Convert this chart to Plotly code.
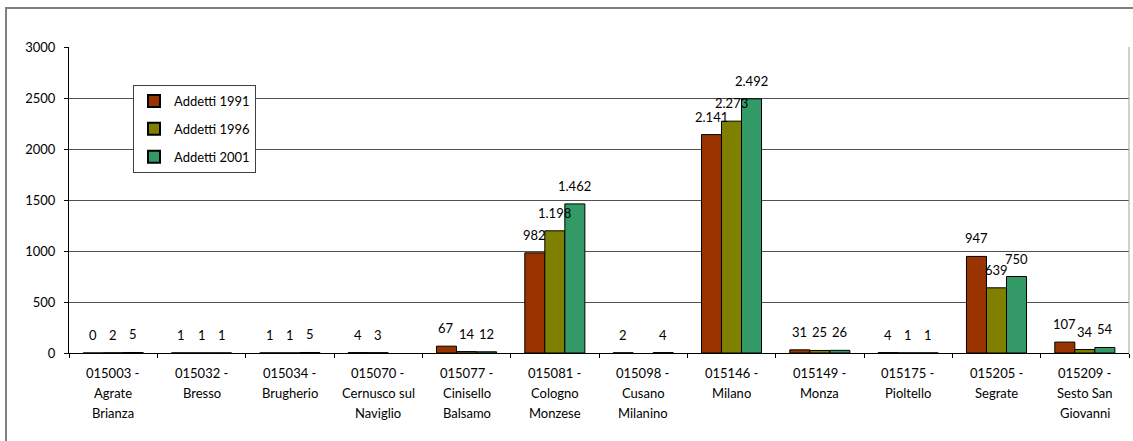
import plotly.graph_objects as go

# Comuni (codice ISTAT - nome) and their label lines under the axis
comuni = [
    "015003 - Agrate Brianza", "015032 - Bresso", "015034 - Brugherio",
    "015070 - Cernusco sul Naviglio", "015077 - Cinisello Balsamo",
    "015081 - Cologno Monzese", "015098 - Cusano Milanino", "015146 - Milano",
    "015149 - Monza", "015175 - Pioltello", "015205 - Segrate",
    "015209 - Sesto San Giovanni",
]
etichette = [
    ["015003 -", "Agrate", "Brianza"],
    ["015032 -", "Bresso"],
    ["015034 -", "Brugherio"],
    ["015070 -", "Cernusco sul", "Naviglio"],
    ["015077 -", "Cinisello", "Balsamo"],
    ["015081 -", "Cologno", "Monzese"],
    ["015098 -", "Cusano", "Milanino"],
    ["015146 -", "Milano"],
    ["015149 -", "Monza"],
    ["015175 -", "Pioltello"],
    ["015205 -", "Segrate"],
    ["015209 -", "Sesto San", "Giovanni"],
]

addetti_1991 = [0, 1, 1, 4, 67, 982, 2, 2141, 31, 4, 947, 107]
addetti_1996 = [2, 1, 1, 3, 14, 1198, None, 2273, 25, 1, 639, 34]
addetti_2001 = [5, 1, 5, None, 12, 1462, 4, 2492, 26, 1, 750, 54]

serie = [
    ("Addetti 1991", addetti_1991, "#993300"),
    ("Addetti 1996", addetti_1996, "#808000"),
    ("Addetti 2001", addetti_2001, "#339966"),
]

y_ticks = [0, 500, 1000, 1500, 2000, 2500, 3000]

FONT = "Lato"
W, H = 1133, 441
ML, MR, MT, MB = 69, 4, 47, 88
PW = W - ML - MR
PH = H - MT - MB
BARGAP = 0.32
bar_px = PW / len(comuni) * (1 - BARGAP) / len(serie)


def fmt(v):
    return f"{v:,}".replace(",", ".")


fig = go.Figure()
annotations = []
for j, (nome, valori, colore) in enumerate(serie):
    fig.add_trace(go.Bar(
        x=comuni, y=valori, name=nome, legendgroup=nome,
        marker=dict(color=colore, line=dict(color="black", width=1)),
    ))
    for c, v in zip(comuni, valori):
        if v is None:
            continue
        annotations.append(dict(
            x=c, y=v, xref="x", yref="y", text=fmt(v), showarrow=False,
            yanchor="bottom", yshift=8, xshift=(j - 1) * bar_px,
            font=dict(family=FONT, size=13, color="black"),
        ))

# Multi-line category labels below the axis
for c, righe in zip(comuni, etichette):
    for k, riga in enumerate(righe):
        annotations.append(dict(
            x=c, y=0, xref="x", yref="paper", text=riga, showarrow=False,
            yanchor="middle", yshift=-20 * (k + 1),
            font=dict(family=FONT, size=13, color="black"),
        ))

shapes = [
    # outer chart frame
    dict(type="rect", xref="paper", yref="paper",
         x0=(6 - ML) / PW, x1=(W + 20 - ML) / PW,
         y0=-(H + 20 - MT - PH) / PH, y1=(MT + PH - 8) / PH,
         line=dict(color="#808080", width=2), layer="below"),
    # right edge of the plot area
    dict(type="line", xref="paper", yref="paper", x0=1, x1=1, y0=0, y1=1,
         line=dict(color="#a0a0a0", width=1)),
]

fig.update_layout(
    width=W, height=H,
    margin=dict(l=ML, r=MR, t=MT, b=MB),
    paper_bgcolor="white", plot_bgcolor="white",
    barmode="group", bargap=BARGAP, bargroupgap=0,
    font=dict(family=FONT, size=13, color="black"),
    showlegend=True,
    legend=dict(
        x=(133 - ML) / PW, y=(MT + PH - 85) / PH, xanchor="left", yanchor="top",
        bgcolor="white", bordercolor="#404040", borderwidth=1,
        font=dict(family=FONT, size=13, color="black"),
        tracegroupgap=8, itemsizing="constant",
    ),
    annotations=annotations,
    shapes=shapes,
)

fig.update_xaxes(
    type="category", categoryorder="array", categoryarray=comuni,
    showticklabels=False, showgrid=False,
    showline=True, linecolor="black", linewidth=1,
    ticks="outside", tickson="boundaries", ticklen=4, tickcolor="black",
)
fig.update_yaxes(
    range=[0, 3000], tickvals=y_ticks, ticktext=[str(t) for t in y_ticks],
    showgrid=True, gridcolor="#505050", gridwidth=1, zeroline=False,
    showline=True, linecolor="black", linewidth=1,
    ticks="outside", ticklen=4, tickcolor="black",
    tickfont=dict(family=FONT, size=13, color="black"),
    ticklabelstandoff=6,
)

fig.write_html("out.html")
